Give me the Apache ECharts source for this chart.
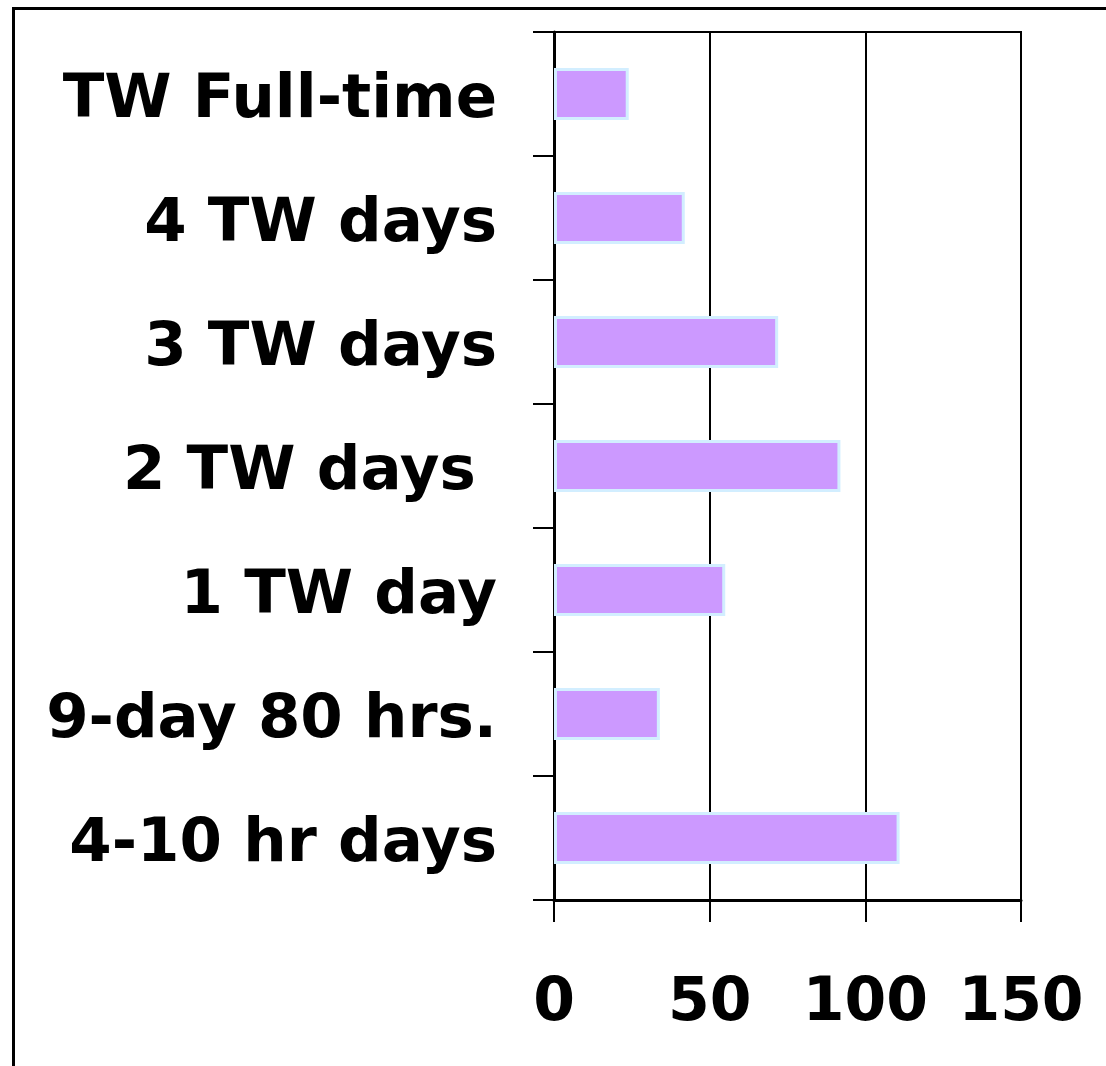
<!DOCTYPE html>
<html>
<head>
<meta charset="utf-8">
<script src="https://cdn.jsdelivr.net/npm/echarts@6/dist/echarts.min.js"></script>
<style>
  html, body { margin: 0; padding: 0; background: #fff; }
  #chart { width: 1106px; height: 1066px; }
</style>
</head>
<body>
<div id="chart"></div>
<script>
// categories top to bottom
var categories = ['TW Full-time', '4 TW days', '3 TW days', '2 TW days ', '1 TW day', '9-day 80 hrs.', '4-10 hr days']
var values = [24, 42, 72, 92, 55, 34, 111]
var xTicks = [0, 50, 100, 150]

var font = 'DejaVu Sans'
var chart = echarts.init(document.getElementById('chart'))

var option = {
    backgroundColor: '#fff',
    animation: false,
    graphic: [
        {
            type: 'rect',
            shape: {x: 13.5, y: 8.5, width: 1300, height: 1300},
            style: {fill: 'none', stroke: '#000', lineWidth: 3},
            silent: true
        }
    ],
    grid: {
        left: 554, right: 85, top: 32, bottom: 166,
        show: true,
        borderColor: '#000',
        borderWidth: 2
    },
    xAxis: {
        type: 'value',
        min: xTicks[0],
        max: xTicks[xTicks.length - 1],
        interval: 50,
        axisLine: {show: true, lineStyle: {color: '#000', width: 3}},
        axisTick: {show: true, length: 22, lineStyle: {color: '#000', width: 2}},
        splitLine: {show: true, lineStyle: {color: '#000', width: 2}},
        axisLabel: {
            color: '#000', fontFamily: font, fontWeight: 'bold', fontSize: 60, margin: 74
        }
    },
    yAxis: {
        type: 'category',
        data: categories,
        inverse: true,
        axisLine: {show: true, lineStyle: {color: '#000', width: 3}},
        axisTick: {show: true, length: 21, lineStyle: {color: '#000', width: 2}},
        axisLabel: {
            margin: 57,
            formatter: function (v) { return '{c|' + v + '}' },
            rich: {
                c: {
                    color: '#000', fontFamily: font, fontWeight: 'bold', fontSize: 61,
                    padding: [14, 0, 0, 0]
                }
            }
        }
    },
    series: [
        {
            type: 'bar',
            data: values,
            barWidth: 52,
            itemStyle: {color: '#CC99FF', borderColor: '#D2EEFF', borderWidth: 3}
        }
    ]
}

chart.setOption(option)
</script>
</body>
</html>
